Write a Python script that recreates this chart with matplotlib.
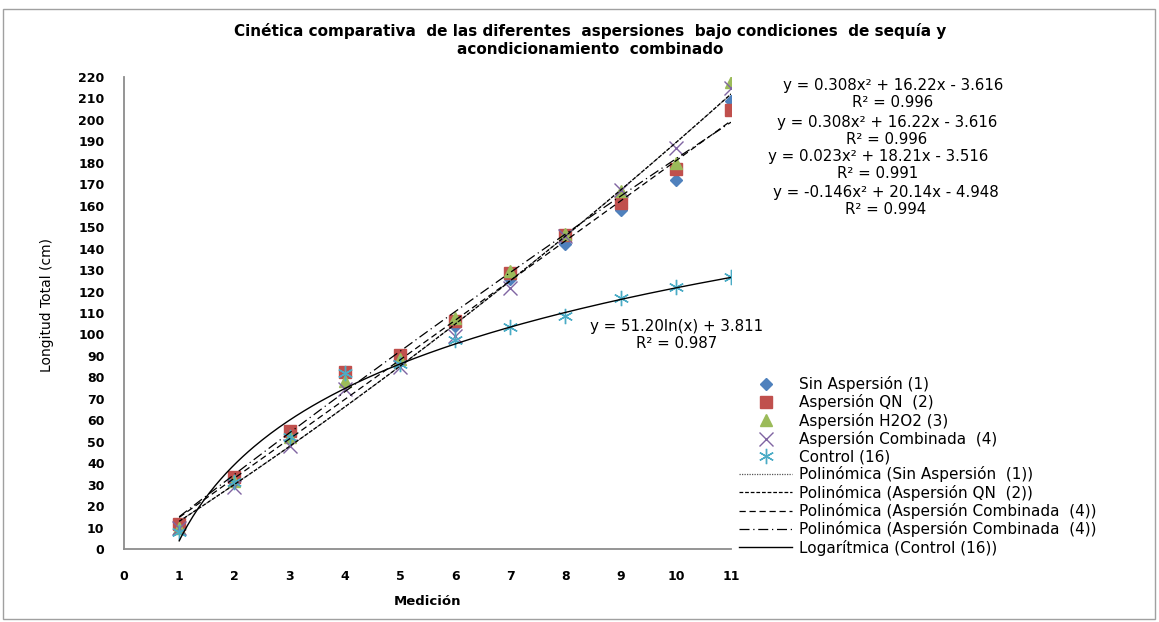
import numpy as np
import matplotlib
matplotlib.use("Agg")
import matplotlib.pyplot as plt
from matplotlib.patches import Rectangle

# ---------------- data ----------------
medicion = [1, 2, 3, 4, 5, 6, 7, 8, 9, 10, 11]
sin_aspersion = [11, 33, 53, 82, 89, 104, 126, 142, 158, 172, 209]
aspersion_qn = [11.5, 33.6, 55, 82.5, 90.5, 106.5, 128.5, 146.5, 161.5, 177, 204.5]
aspersion_h2o2 = [10, 31.5, 52, 78.5, 88.5, 107.5, 129.5, 147, 167, 180, 217.5]
aspersion_comb = [10, 29, 48, 74.5, 85, 99.5, 121.5, 146, 167.5, 187, 215]
control = [8, 31, 52, 82, 86, 97.5, 103.5, 108.5, 117, 122, 127]

series_labels = ["Sin Aspersión (1)", "Aspersión QN  (2)", "Aspersión H2O2 (3)",
                 "Aspersión Combinada  (4)", "Control (16)"]

# trend line coefficients
poly_coefs = [[0.308, 16.22, -3.616],
              [0.308, 16.22, -3.616],
              [0.023, 18.21, -3.516],
              [-0.146, 20.14, -4.948]]
poly_labels = ["Polinómica (Sin Aspersión  (1))",
               "Polinómica (Aspersión QN  (2))",
               "Polinómica (Aspersión Combinada  (4))",
               "Polinómica (Aspersión Combinada  (4))"]
log_coefs = [51.20, 3.811]
log_label = "Logarítmica (Control (16))"

poly_texts = ["y = 0.308x² + 16.22x - 3.616\nR² = 0.996",
              "y = 0.308x² + 16.22x - 3.616\nR² = 0.996",
              "y = 0.023x² + 18.21x - 3.516\nR² = 0.991",
              "y = -0.146x² + 20.14x - 4.948\nR² = 0.994"]
log_text = "y = 51.20ln(x) + 3.811\nR² = 0.987"

x_ticks = list(range(0, 12))
y_ticks = list(range(0, 221, 10))

# ---------------- figure ----------------
W, H = 1159, 622
fig = plt.figure(figsize=(W / 100, H / 100), dpi=100)
ax = fig.add_axes([124 / W, 1 - 549 / H, (731 - 124) / W, (549 - 77) / H])

fig.patches.append(Rectangle((3 / W, 3 / H), (W - 7) / W, (H - 12) / H,
                             transform=fig.transFigure, fill=False,
                             edgecolor="#a0a0a0", linewidth=1.0))

# markers
ax.plot(medicion, sin_aspersion, linestyle="none", marker="D", markersize=6.5,
        color="#4F81BD", label=series_labels[0], zorder=3)
ax.plot(medicion, aspersion_qn, linestyle="none", marker="s", markersize=8.5,
        color="#C0504D", label=series_labels[1], zorder=3)
ax.plot(medicion, aspersion_h2o2, linestyle="none", marker="^", markersize=9,
        color="#9BBB59", label=series_labels[2], zorder=3)
ax.plot(medicion, aspersion_comb, linestyle="none", marker="x", markersize=10,
        markeredgewidth=1.0, color="#8064A2", label=series_labels[3], zorder=3)
ax.plot(medicion, control, linestyle="none", marker=(6, 2, 0), markersize=11,
        markeredgewidth=1.0, color="#4BACC6", label=series_labels[4], zorder=3)

# trend lines
xs = np.linspace(medicion[0], medicion[-1], 200)
styles = [dict(linestyle=(0, (1, 1)), color="#555555", linewidth=0.9),
          dict(linestyle=(0, (3, 1.5)), color="black", linewidth=0.9),
          dict(linestyle=(0, (5, 3)), color="black", linewidth=0.9),
          dict(linestyle=(0, (8, 3, 1, 3)), color="black", linewidth=0.9)]
for c, lab, st in zip(poly_coefs, poly_labels, styles):
    ax.plot(xs, np.polyval(c, xs), label=lab, zorder=4, **st)
ax.plot(xs, log_coefs[0] * np.log(xs) + log_coefs[1], color="black",
        linewidth=1.0, label=log_label, zorder=4)

# axes style
ax.set_xlim(0, 11)
ax.set_ylim(0, 220)
ax.set_xticks(x_ticks)
ax.set_yticks(y_ticks)
for s in ["top", "right"]:
    ax.spines[s].set_visible(False)
for s in ["left", "bottom"]:
    ax.spines[s].set_color("#8c8c8c")
    ax.spines[s].set_linewidth(1.3)
ax.tick_params(length=0, labelsize=9, pad=14)
ax.tick_params(axis="x", pad=15)
for lab in ax.get_xticklabels() + ax.get_yticklabels():
    lab.set_fontweight("semibold")

ax.set_xlabel("Medición", fontsize=9.5, fontweight="bold")
ax.xaxis.set_label_coords((428 - 124) / (731 - 124), -(595 - 549) / (549 - 77))
ax.set_ylabel("Longitud Total (cm)", fontsize=10,
              family=["Liberation Sans Narrow", "DejaVu Sans"])
ax.yaxis.set_label_coords(-(124 - 54) / (731 - 124), (549 - 305) / (549 - 77))

fig.text(590 / W, 1 - 40 / H,
         "Cinética comparativa  de las diferentes  aspersiones  bajo condiciones  de sequía y\nacondicionamiento  combinado",
         ha="center", va="center", fontsize=11, fontweight="bold",
         family=["Liberation Sans Narrow", "DejaVu Sans"], linespacing=1.3)

# equations
eq_pos = [(893, 94), (887, 131), (878, 165), (886, 201)]
for (px, py), t in zip(eq_pos, poly_texts):
    fig.text(px / W, 1 - py / H, t, ha="center", va="center", fontsize=10.8,
             linespacing=1.12)
fig.text(677 / W, 1 - 335 / H, log_text, ha="center", va="center", fontsize=10.8,
         linespacing=1.12)

# legend
leg = fig.legend(loc="upper left", bbox_to_anchor=(739 / W, 1 - 376 / H),
                 frameon=False, fontsize=11, handlelength=3.5, handletextpad=0.45,
                 labelspacing=0.15, borderpad=0, borderaxespad=0, numpoints=1)

fig.savefig("out.png", dpi=100)
